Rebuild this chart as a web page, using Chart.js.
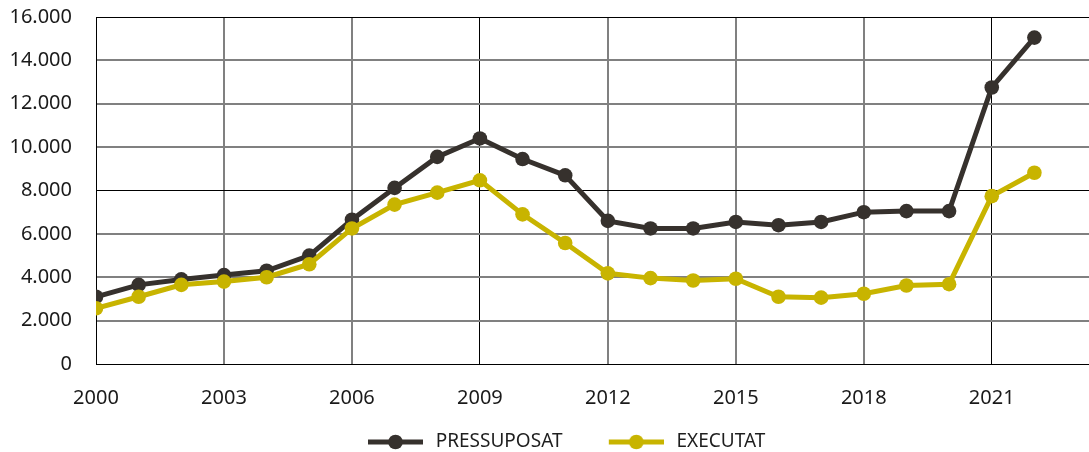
<!DOCTYPE html>
<html><head><meta charset="utf-8">
<script src="https://cdn.jsdelivr.net/npm/chart.js@4.4.1/dist/chart.umd.min.js"></script>
<style>html,body{margin:0;padding:0;background:#fff;overflow:hidden}</style>
</head><body>
<canvas id="c" width="1089" height="452"></canvas>
<script>
const years = [2000,2001,2002,2003,2004,2005,2006,2007,2008,2009,2010,2011,2012,2013,2014,2015,2016,2017,2018,2019,2020,2021,2022];
const pressuposat = [3100,3650,3900,4100,4300,5000,6650,8120,9550,10400,9450,8700,6600,6250,6250,6550,6400,6550,7000,7050,7050,12750,15050];
const executat = [2570,3100,3650,3800,4000,4600,6250,7350,7900,8470,6900,5580,4180,3960,3850,3930,3100,3060,3240,3620,3680,7740,8820];
const xTickValues = [2000,2003,2006,2009,2012,2015,2018,2021];
const yTickValues = [0,2000,4000,6000,8000,10000,12000,14000,16000];
const seriesNames = ['PRESSUPOSAT','EXECUTAT'];
const seriesColors = ['#36312d','#c8b400'];

const darkX = [2000,2009,2021];
const darkY = [0,8000,16000];

function fmt(v){ return String(v).replace(/\B(?=(\d{3})+(?!\d))/g,'.'); }

function legendImage(color){
  const c = document.createElement('canvas');
  c.width = 96; c.height = 16;
  const g = c.getContext('2d');
  g.strokeStyle = color; g.lineWidth = 5; g.lineCap = 'butt';
  g.beginPath(); g.moveTo(41, 8); g.lineTo(96, 8); g.stroke();
  g.fillStyle = color; g.beginPath(); g.arc(68.5, 8, 7.3, 0, Math.PI*2); g.fill();
  return c;
}
const legendImgs = seriesColors.map(legendImage);

const font = {family: "'Noto Sans', sans-serif", size: 20};

new Chart(document.getElementById('c'), {
  type: 'line',
  data: {
    datasets: [
      {label: seriesNames[0], data: years.map((y,i)=>({x:y, y:pressuposat[i]})), borderColor: seriesColors[0], backgroundColor: seriesColors[0], order: 1},
      {label: seriesNames[1], data: years.map((y,i)=>({x:y, y:executat[i]})), borderColor: seriesColors[1], backgroundColor: seriesColors[1], order: 0}
    ]
  },
  options: {
    responsive: false,
    animation: false,
    layout: {autoPadding: false, padding: {top: 17, right: 0, left: 0, bottom: -9.5}},
    elements: {
      line: {borderWidth: 5, tension: 0, fill: false},
      point: {radius: 7.3, borderWidth: 0, pointStyle: 'circle', hoverRadius: 7.3}
    },
    plugins: {
      tooltip: {enabled: false},
      legend: {
        position: 'bottom',
        align: 'center',
        labels: {
          usePointStyle: true,
          pointStyleWidth: 102.5,
          padding: 2,
          color: '#1e1e1e',
          font: {family: "'Noto Sans', sans-serif", size: 19},
          sort: (a,b) => a.datasetIndex - b.datasetIndex,
          generateLabels: (chart) => {
            const items = Chart.defaults.plugins.legend.labels.generateLabels(chart);
            items.forEach(it => { it.pointStyle = legendImgs[it.datasetIndex]; });
            return items;
          }
        }
      }
    },
    scales: {
      x: {
        type: 'linear',
        min: 2000,
        max: 2023.28,
        afterBuildTicks: s => { s.ticks = xTickValues.map(v => ({value: v})); },
        afterFit: s => { s.height = 66.5; s.paddingLeft = 0; s.paddingRight = 0; s.paddingTop = 0; s.paddingBottom = 0; },
        ticks: {font, color: '#1a1a1a', padding: 22, maxRotation: 0, callback: v => String(v)},
        grid: {
          drawTicks: false,
          color: c => darkX.includes(c.tick && c.tick.value) ? '#000' : '#808080',
          lineWidth: c => darkX.includes(c.tick && c.tick.value) ? 1 : 2
        },
        border: {display: true, color: '#000', width: 1}
      },
      y: {
        min: 0,
        max: 16000,
        afterBuildTicks: s => { s.ticks = yTickValues.map(v => ({value: v})); },
        afterFit: s => { s.width = 96; s.paddingTop = 0; s.paddingBottom = 0; s.paddingLeft = 0; s.paddingRight = 0; },
        ticks: {font, color: '#1a1a1a', padding: 24, callback: v => fmt(v)},
        grid: {
          drawTicks: false,
          color: c => darkY.includes(c.tick && c.tick.value) ? '#000' : '#808080',
          lineWidth: c => darkY.includes(c.tick && c.tick.value) ? 1 : 2
        },
        border: {display: true, color: '#000', width: 1}
      }
    }
  }
});
</script>
</body></html>
